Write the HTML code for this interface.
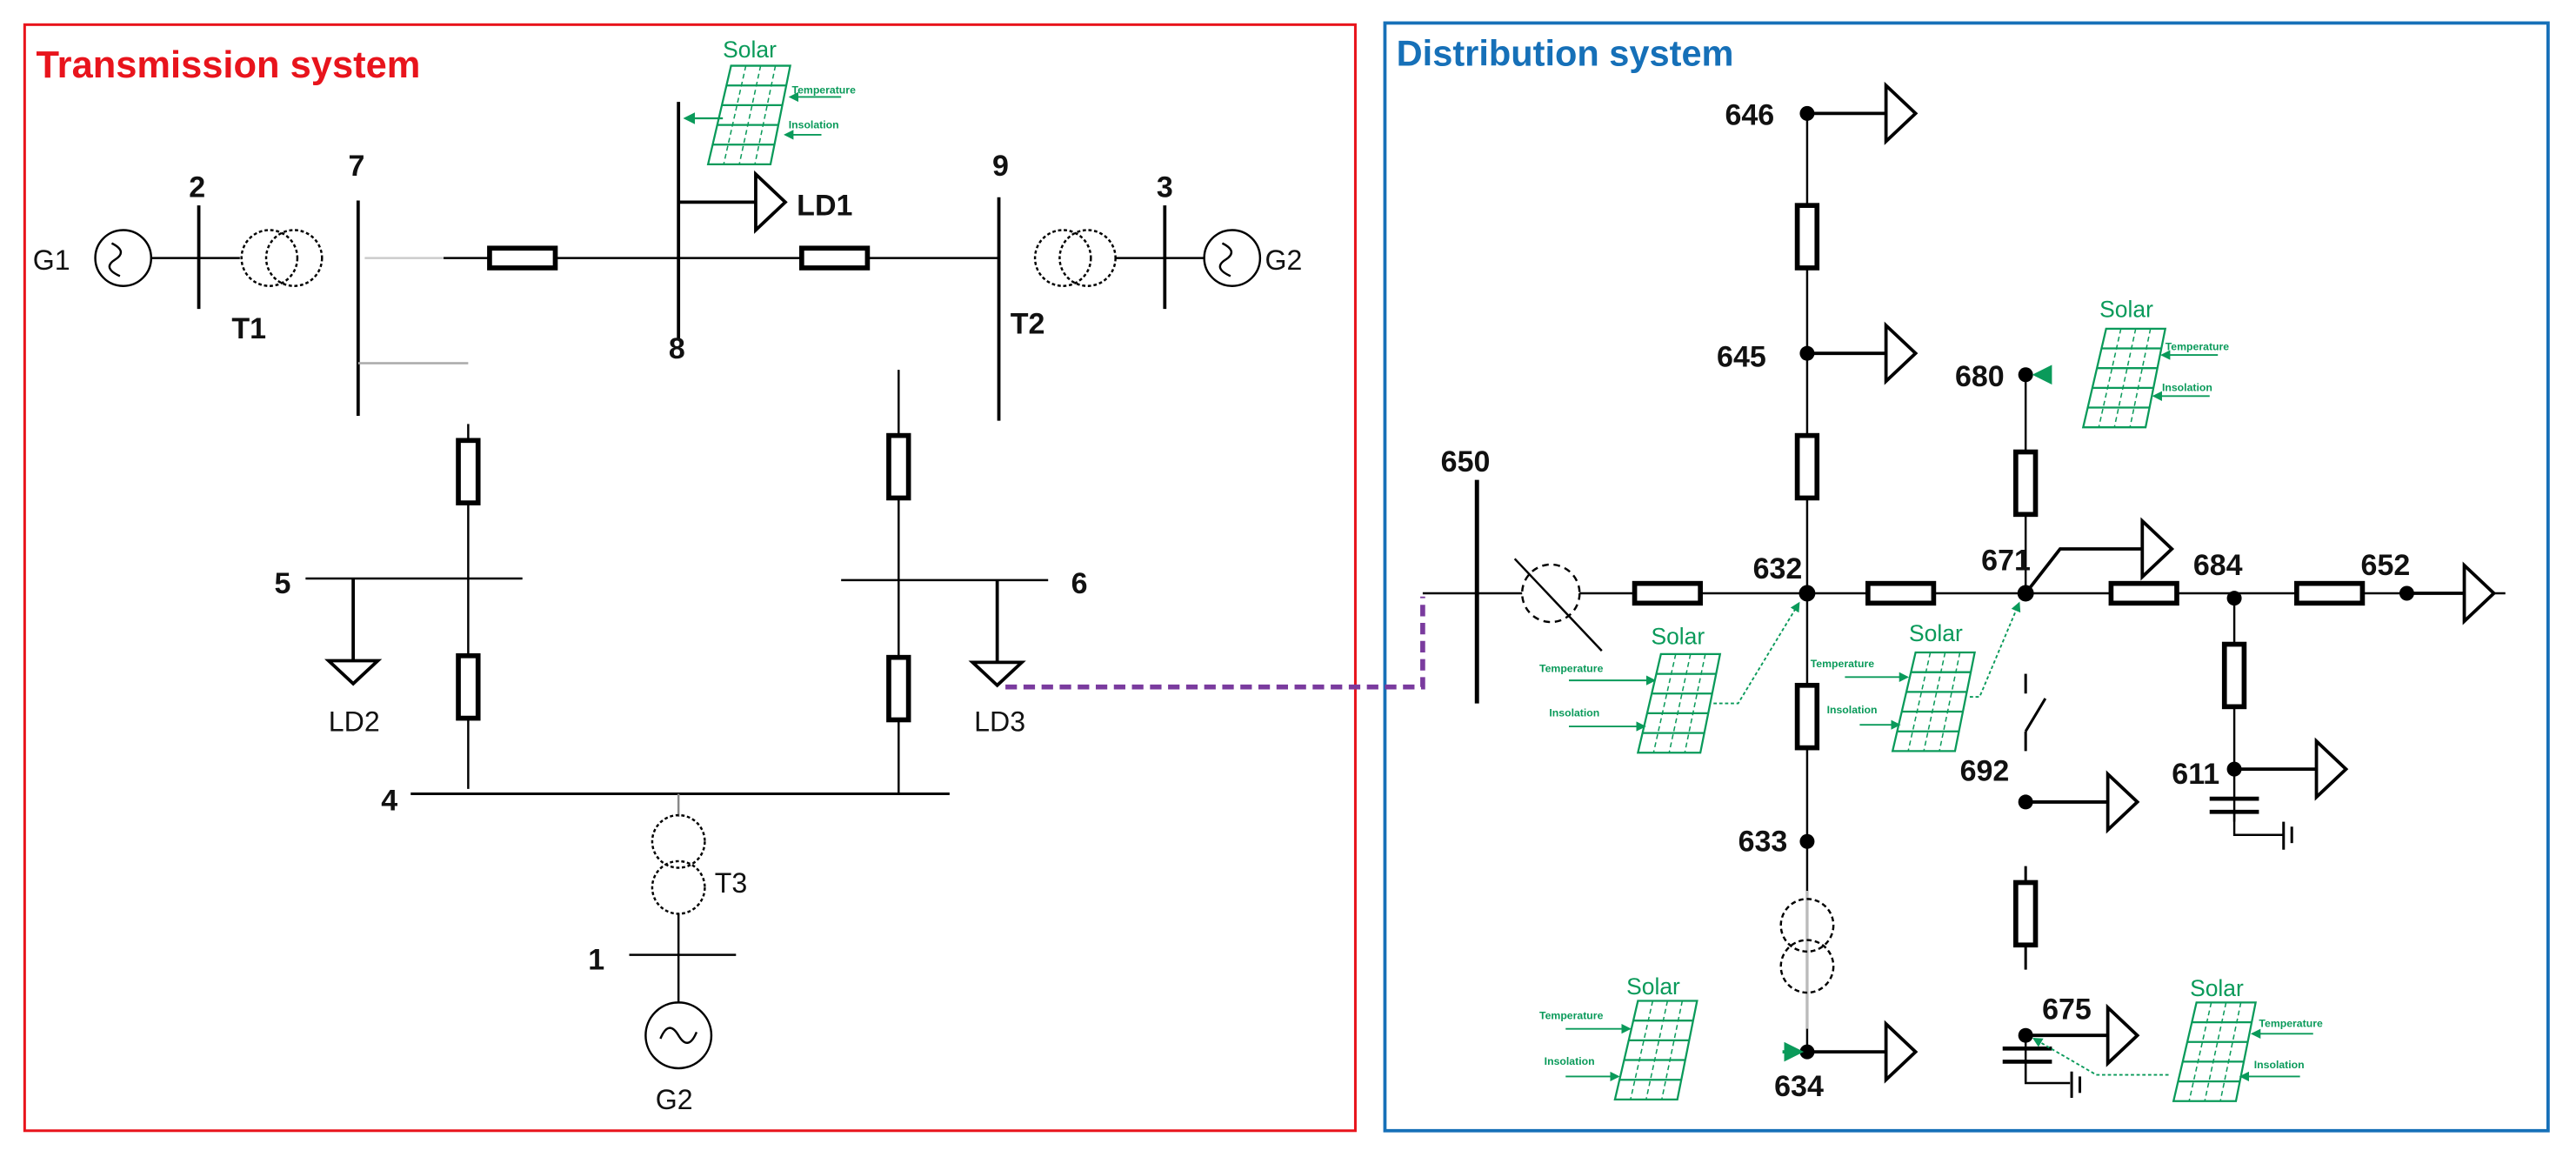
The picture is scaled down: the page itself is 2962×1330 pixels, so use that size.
<!DOCTYPE html>
<html><head><meta charset="utf-8"><style>
html,body{margin:0;padding:0;background:#fff;}
svg{display:block;}
text{font-family:"Liberation Sans",sans-serif;}
.n{font-weight:bold;font-size:18px;fill:#111;}
.l{font-size:17px;fill:#111;}
.g{fill:#0a9a5a;}
.s{font-size:14px;fill:#0a9a5a;}
.t{font-size:6.5px;fill:#0a9a5a;font-weight:bold;}
</style></head><body>
<svg width="2962" height="1330" viewBox="0 0 1568 704" preserveAspectRatio="none" xmlns="http://www.w3.org/2000/svg">
<defs>
<g id="pv" fill="none" stroke="#0a9a5a" stroke-width="1.2">
<polygon points="14,0 50,0 38,60 0,60" fill="#fff"/>
<line x1="11.2" y1="12" x2="47.6" y2="12"/><line x1="8.4" y1="24" x2="45.2" y2="24"/>
<line x1="5.6" y1="36" x2="42.8" y2="36"/><line x1="2.8" y1="48" x2="40.4" y2="48"/>
<g stroke-dasharray="3,2" stroke-width="0.8"><line x1="23" y1="0" x2="9.5" y2="60"/><line x1="32" y1="0" x2="19" y2="60"/><line x1="41" y1="0" x2="28.5" y2="60"/></g>
</g>
<g id="rh"><rect x="0" y="-6" width="40" height="12" fill="#fff" stroke="#000" stroke-width="3"/></g>
<g id="rv"><rect x="-6" y="0" width="12" height="38" fill="#fff" stroke="#000" stroke-width="3"/></g>
<g id="ld"><polygon points="0,-17 18,0 0,17" fill="#fff" stroke="#000" stroke-width="2"/></g>
<g id="ldd"><polygon points="-15,0 15,0 0,14" fill="#fff" stroke="#000" stroke-width="2"/></g>
<marker id="ga" markerWidth="6" markerHeight="6" refX="5" refY="3" orient="auto"><path d="M0,0 L6,3 L0,6 z" fill="#0a9a5a"/></marker>
</defs>

<rect x="15" y="15" width="810" height="673" fill="none" stroke="#e8141c" stroke-width="1.6"/>
<rect x="843" y="14" width="708" height="674" fill="none" stroke="#1670b8" stroke-width="2"/>
<text x="22" y="47" font-size="23" font-weight="bold" fill="#e8141c">Transmission system</text>
<text x="850" y="40" font-size="22" font-weight="bold" fill="#1670b8">Distribution system</text>

<g stroke="#000" stroke-width="1.3" fill="none">
<circle cx="75" cy="157" r="17"/>
<path d="M68,148 q10,5 2,10 q-8,5 3,10"/>
<line x1="92" y1="157" x2="146" y2="157"/>
<line x1="121" y1="125" x2="121" y2="188" stroke-width="2"/>
<g stroke-dasharray="2,1.5"><circle cx="164" cy="157" r="17"/><circle cx="179" cy="157" r="17"/></g>
<line x1="218" y1="122" x2="218" y2="253" stroke-width="2"/>
<line x1="218" y1="221" x2="285" y2="221" stroke="#aaa"/>
<line x1="222" y1="157" x2="270" y2="157" stroke="#ccc"/>
<line x1="270" y1="157" x2="608" y2="157"/>
<line x1="413" y1="62" x2="413" y2="207" stroke-width="2"/>
<line x1="413" y1="123" x2="460" y2="123" stroke-width="2"/>
<line x1="608" y1="120" x2="608" y2="256" stroke-width="2"/>
<g stroke-dasharray="2,1.5"><circle cx="647" cy="157" r="17"/><circle cx="662" cy="157" r="17"/></g>
<line x1="679" y1="157" x2="733" y2="157"/>
<line x1="709" y1="125" x2="709" y2="188" stroke-width="2"/>
<circle cx="750" cy="157" r="17"/>
<path d="M744,148 q10,5 2,10 q-8,5 3,10"/>
<line x1="285" y1="258" x2="285" y2="480"/>
<line x1="186" y1="352" x2="318" y2="352"/>
<line x1="215" y1="352" x2="215" y2="402" stroke-width="2"/>
<line x1="547" y1="225" x2="547" y2="483"/>
<line x1="512" y1="353" x2="638" y2="353"/>
<line x1="607" y1="353" x2="607" y2="403" stroke-width="2"/>
<line x1="250" y1="483" x2="578" y2="483" stroke-width="1.6"/>
<line x1="413" y1="483" x2="413" y2="497" stroke="#888"/>
<g stroke-dasharray="2,1.5"><circle cx="413" cy="512" r="16"/><circle cx="413" cy="540" r="16"/></g>
<line x1="413" y1="556" x2="413" y2="610"/>
<line x1="383" y1="581" x2="448" y2="581"/>
<circle cx="413" cy="630" r="20"/>
<path d="M402,632 q5,-12 11,-2 q6,10 11,-2"/>
</g>
<use href="#rh" x="298" y="157"/>
<use href="#rh" x="488" y="157"/>
<use href="#rv" x="285" y="268"/>
<use href="#rv" x="285" y="399"/>
<use href="#rv" x="547" y="265"/>
<use href="#rv" x="547" y="400"/>
<use href="#ld" x="460" y="123"/>
<use href="#ldd" x="215" y="402"/>
<use href="#ldd" x="607" y="403"/>
<text class="l" x="20" y="164">G1</text>
<text class="n" x="115" y="120">2</text>
<text class="n" x="141" y="206" font-size="17">T1</text>
<text class="n" x="212" y="107">7</text>
<text class="n" x="407" y="218">8</text>
<text class="n" x="604" y="107">9</text>
<text class="n" x="704" y="120">3</text>
<text class="n" x="615" y="203" font-size="17">T2</text>
<text class="l" x="770" y="164">G2</text>
<text class="n" x="485" y="131" font-size="17">LD1</text>
<text class="n" x="167" y="361">5</text>
<text class="n" x="652" y="361">6</text>
<text class="l" x="200" y="445">LD2</text>
<text class="l" x="593" y="445">LD3</text>
<text class="n" x="232" y="493">4</text>
<text class="l" x="435" y="543">T3</text>
<text class="n" x="358" y="590">1</text>
<text class="l" x="399" y="675">G2</text>
<use href="#pv" x="431" y="40"/>
<text class="s" x="440" y="35">Solar</text>
<text class="t" x="482" y="57">Temperature</text>
<text class="t" x="480" y="78">Insolation</text>
<line x1="512" y1="59" x2="481" y2="59" stroke="#0a9a5a" stroke-width="1" marker-end="url(#ga)"/>
<line x1="500" y1="82" x2="478" y2="82" stroke="#0a9a5a" stroke-width="1" marker-end="url(#ga)"/>
<line x1="440" y1="72" x2="417" y2="72" stroke="#0a9a5a" stroke-width="1.2" marker-end="url(#ga)"/>

<path d="M612,418 H866 V363" fill="none" stroke="#7a3b9e" stroke-width="3" stroke-dasharray="7,4"/>

<g stroke="#000" stroke-width="1.3" fill="none">
<line x1="1100" y1="69" x2="1100" y2="640"/>
<line x1="1100" y1="542" x2="1100" y2="626" stroke="#bbb"/>
<line x1="866" y1="361" x2="1525" y2="361"/>
<line x1="899" y1="292" x2="899" y2="428" stroke-width="2.6"/>
<circle cx="944" cy="361" r="17.5" fill="#fff" stroke-dasharray="4,3"/>
<line x1="922" y1="340" x2="975" y2="396"/>
<line x1="1100" y1="69" x2="1148" y2="69" stroke-width="2"/>
<line x1="1100" y1="215" x2="1148" y2="215" stroke-width="2"/>
<line x1="1100" y1="640" x2="1148" y2="640" stroke-width="2"/>
<g stroke-dasharray="3,2"><circle cx="1100" cy="563" r="16"/><circle cx="1100" cy="588" r="16"/></g>
<line x1="1233" y1="228" x2="1233" y2="361"/>
<path d="M1233,361 L1254,334 H1304" stroke-width="2"/>
<line x1="1233" y1="410" x2="1233" y2="422" stroke-width="1.6"/>
<line x1="1233" y1="445" x2="1233" y2="457" stroke-width="1.6"/>
<line x1="1233" y1="445" x2="1245" y2="425" stroke-width="1.6"/>
<line x1="1233" y1="488" x2="1283" y2="488" stroke-width="2"/>
<line x1="1233" y1="527" x2="1233" y2="590" stroke-width="1.6"/>
<line x1="1233" y1="630" x2="1283" y2="630" stroke-width="2"/>
<line x1="1233" y1="630" x2="1233" y2="658"/>
<line x1="1219" y1="638" x2="1249" y2="638" stroke-width="2.5"/>
<line x1="1219" y1="646" x2="1249" y2="646" stroke-width="2.5"/>
<path d="M1233,646 V659 H1260"/>
<line x1="1261" y1="652" x2="1261" y2="668" stroke-width="1.6"/>
<line x1="1266" y1="655" x2="1266" y2="665" stroke-width="1.6"/>
<line x1="1360" y1="361" x2="1360" y2="468"/>
<line x1="1360" y1="468" x2="1410" y2="468" stroke-width="2"/>
<line x1="1360" y1="468" x2="1360" y2="500"/>
<line x1="1345" y1="486" x2="1375" y2="486" stroke-width="2.5"/>
<line x1="1345" y1="494" x2="1375" y2="494" stroke-width="2.5"/>
<path d="M1360,494 V508 H1390"/>
<line x1="1390" y1="500" x2="1390" y2="517" stroke-width="1.6"/>
<line x1="1395" y1="503" x2="1395" y2="513" stroke-width="1.6"/>
<line x1="1465" y1="361" x2="1500" y2="361" stroke-width="2"/>
</g>
<use href="#rv" x="1100" y="125"/>
<use href="#rv" x="1100" y="265"/>
<use href="#rv" x="1100" y="417"/>
<use href="#rv" x="1233" y="275"/>
<use href="#rv" x="1233" y="537"/>
<use href="#rv" x="1360" y="392"/>
<use href="#rh" x="995" y="361"/>
<use href="#rh" x="1137" y="361"/>
<use href="#rh" x="1285" y="361"/>
<use href="#rh" x="1398" y="361"/>
<use href="#ld" x="1148" y="69"/>
<use href="#ld" x="1148" y="215"/>
<use href="#ld" x="1148" y="640"/>
<use href="#ld" x="1304" y="334"/>
<use href="#ld" x="1500" y="361"/>
<use href="#ld" x="1410" y="468"/>
<use href="#ld" x="1283" y="488"/>
<use href="#ld" x="1283" y="630"/>
<g fill="#000">
<circle cx="1100" cy="69" r="4.5"/><circle cx="1100" cy="215" r="4.5"/><circle cx="1100" cy="361" r="5"/>
<circle cx="1100" cy="512" r="4.5"/><circle cx="1100" cy="640" r="4.5"/><circle cx="1233" cy="228" r="4.5"/>
<circle cx="1233" cy="361" r="5"/><circle cx="1360" cy="364" r="4.5"/><circle cx="1465" cy="361" r="4.5"/>
<circle cx="1360" cy="468" r="4.5"/><circle cx="1233" cy="488" r="4.5"/><circle cx="1233" cy="630" r="4.5"/>
</g>
<text class="n" x="1050" y="76">646</text>
<text class="n" x="1045" y="223">645</text>
<text class="n" x="877" y="287">650</text>
<text class="n" x="1067" y="352">632</text>
<text class="n" x="1190" y="235">680</text>
<text class="n" x="1206" y="347">671</text>
<text class="n" x="1335" y="350">684</text>
<text class="n" x="1437" y="350">652</text>
<text class="n" x="1193" y="475">692</text>
<text class="n" x="1322" y="477">611</text>
<text class="n" x="1058" y="518">633</text>
<text class="n" x="1080" y="667">634</text>
<text class="n" x="1243" y="620">675</text>

<use href="#pv" x="997" y="398"/>
<text class="s" x="1005" y="392">Solar</text>
<text class="t" x="937" y="409">Temperature</text>
<text class="t" x="943" y="436">Insolation</text>
<line x1="955" y1="414" x2="1007" y2="414" stroke="#0a9a5a" stroke-width="1" marker-end="url(#ga)"/>
<line x1="955" y1="442" x2="1001" y2="442" stroke="#0a9a5a" stroke-width="1" marker-end="url(#ga)"/>
<path d="M1043,428 H1058 L1095,367" fill="none" stroke="#0a9a5a" stroke-width="1" stroke-dasharray="2,1.5" marker-end="url(#ga)"/>

<use href="#pv" x="1152" y="397"/>
<text class="s" x="1162" y="390">Solar</text>
<text class="t" x="1102" y="406">Temperature</text>
<text class="t" x="1112" y="434">Insolation</text>
<line x1="1123" y1="412" x2="1161" y2="412" stroke="#0a9a5a" stroke-width="1" marker-end="url(#ga)"/>
<line x1="1132" y1="441" x2="1156" y2="441" stroke="#0a9a5a" stroke-width="1" marker-end="url(#ga)"/>
<path d="M1199,424 H1205 L1229,367" fill="none" stroke="#0a9a5a" stroke-width="1" stroke-dasharray="2,1.5" marker-end="url(#ga)"/>

<use href="#pv" x="1268" y="200"/>
<text class="s" x="1278" y="193">Solar</text>
<text class="t" x="1318" y="213">Temperature</text>
<text class="t" x="1316" y="238">Insolation</text>
<line x1="1350" y1="216" x2="1316" y2="216" stroke="#0a9a5a" stroke-width="1" marker-end="url(#ga)"/>
<line x1="1345" y1="241" x2="1311" y2="241" stroke="#0a9a5a" stroke-width="1" marker-end="url(#ga)"/>
<line x1="1246" y1="228" x2="1239" y2="228" stroke="#0a9a5a" stroke-width="2" marker-end="url(#ga)"/>

<use href="#pv" x="983" y="609"/>
<text class="s" x="990" y="605">Solar</text>
<text class="t" x="937" y="620">Temperature</text>
<text class="t" x="940" y="648">Insolation</text>
<line x1="953" y1="626" x2="992" y2="626" stroke="#0a9a5a" stroke-width="1" marker-end="url(#ga)"/>
<line x1="953" y1="655" x2="985" y2="655" stroke="#0a9a5a" stroke-width="1" marker-end="url(#ga)"/>
<line x1="1085" y1="640" x2="1096" y2="640" stroke="#0a9a5a" stroke-width="2" marker-end="url(#ga)"/>

<use href="#pv" x="1323" y="610"/>
<text class="s" x="1333" y="606">Solar</text>
<text class="t" x="1375" y="625">Temperature</text>
<text class="t" x="1372" y="650">Insolation</text>
<line x1="1408" y1="629" x2="1371" y2="629" stroke="#0a9a5a" stroke-width="1" marker-end="url(#ga)"/>
<line x1="1400" y1="655" x2="1364" y2="655" stroke="#0a9a5a" stroke-width="1" marker-end="url(#ga)"/>
<path d="M1320,654 H1276 L1238,632" fill="none" stroke="#0a9a5a" stroke-width="1" stroke-dasharray="2,1.5" marker-end="url(#ga)"/>
</svg>
</body></html>
